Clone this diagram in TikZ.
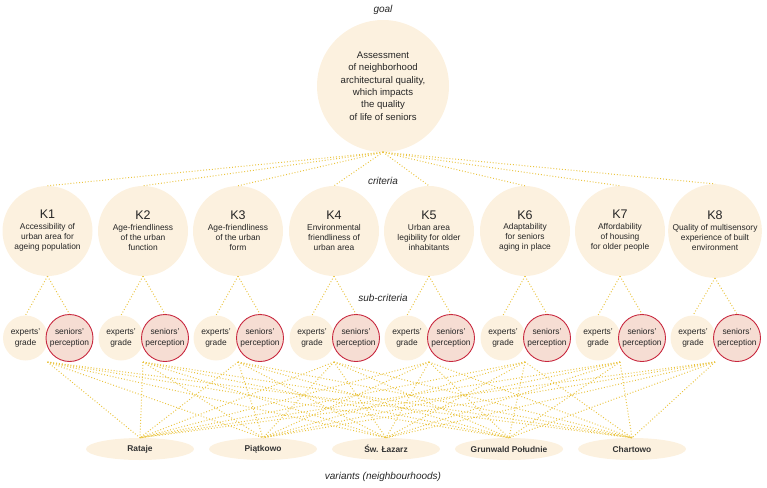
\documentclass[tikz,border=0pt]{standalone}
\usepackage{fontspec}
\setmainfont{Liberation Sans}
\usetikzlibrary{shapes.geometric,calc}
\definecolor{creamfill}{RGB}{252,241,223}
\definecolor{pinkfill}{RGB}{246,221,211}
\definecolor{seniorred}{RGB}{200,40,63}
\definecolor{dotyellow}{RGB}{234,196,64}

\tikzset{
  levellabel/.style={font=\fontsize{10}{12}\selectfont\itshape,text=black!85},
  goalnode/.style={circle,fill=creamfill,minimum size=132pt,inner sep=0pt,align=center,
    font=\fontsize{9.6}{12.3}\selectfont,text=black!85},
  critnode/.style={circle,fill=creamfill,minimum size=90pt,inner sep=0pt,align=center,
    font=\fontsize{8.4}{10.3}\selectfont,text=black!85},
  expertnode/.style={circle,fill=creamfill,minimum size=45pt,inner sep=0pt,align=center,
    font=\fontsize{8.4}{11}\selectfont,text=black!85},
  seniornode/.style={circle,fill=pinkfill,draw=seniorred,line width=0.9pt,minimum size=47pt,
    inner sep=0pt,align=center,font=\fontsize{8.4}{11}\selectfont,text=black!85},
  variantnode/.style={ellipse,fill=creamfill,minimum width=108pt,minimum height=22pt,
    inner sep=0pt,font=\fontsize{8.4}{10}\selectfont\bfseries,text=black!80},
  link/.style={dotyellow,line width=1pt,dash pattern=on 0.9pt off 2pt}
}

\begin{document}
\begin{tikzpicture}[x=1pt,y=-1pt]
    \useasboundingbox (0,0) rectangle (767,487);

    % Level labels
    \node[levellabel] (lgoal) at (383,10) {goal};
    \node[levellabel] (lcrit) at (383,181) {criteria};
    \node[levellabel] (lsub) at (383,298) {sub-criteria};
    \node[levellabel] (lvar) at (383,477) {variants (neighbourhoods)};

    % Goal
    \node[goalnode] (goal) at (383,86) {Assessment\\of neighborhood\\architectural quality,\\which impacts\\the quality\\of life of seniors};

    % Criteria
    \node[critnode] (k1) at (47.5,231) {{\fontsize{12.5}{14}\selectfont K1}\\Accessibility of\\urban area for\\ageing population};
    \node[critnode] (k2) at (143,231) {{\fontsize{12.5}{14}\selectfont K2}\\Age-friendliness\\of the urban\\function};
    \node[critnode] (k3) at (238,231) {{\fontsize{12.5}{14}\selectfont K3}\\Age-friendliness\\of the urban\\form};
    \node[critnode] (k4) at (334,231) {{\fontsize{12.5}{14}\selectfont K4}\\Environmental\\friendliness of\\urban area};
    \node[critnode] (k5) at (429,231) {{\fontsize{12.5}{14}\selectfont K5}\\Urban area\\legibility for older\\inhabitants};
    \node[critnode] (k6) at (525,231) {{\fontsize{12.5}{14}\selectfont K6}\\Adaptability\\for seniors\\aging in place};
    \node[critnode] (k7) at (620,231) {{\fontsize{12.5}{14}\selectfont K7}\\Affordability\\of housing\\for older people};
    \node[critnode] (k8) at (715,231) {{\fontsize{12.5}{14}\selectfont K8}\\Quality of multisensory\\experience of built\\environment};

    % Sub-criteria
    \foreach \i in {1,...,8} {
      \node[expertnode] (e\i) at ($(k\i)+(-22,107)$) {experts'\\grade};
      \node[seniornode] (s\i) at ($(k\i)+(22,107)$) {seniors'\\perception};
      \coordinate (b\i) at ($(k\i)+(0,131)$);
    }

    % Variants
    \node[variantnode] (v1) at (140,449) {Rataje};
    \node[variantnode] (v2) at (263,449) {Piątkowo};
    \node[variantnode] (v3) at (386,449) {Św. Łazarz};
    \node[variantnode] (v4) at (509,449) {Grunwald Południe};
    \node[variantnode] (v5) at (632,449) {Chartowo};

    % Links
    \foreach \i in {1,...,8} {
      \draw[link] (goal.south) -- (k\i.north);
      \draw[link] (k\i.south) -- (e\i.north);
      \draw[link] (k\i.south) -- (s\i.north);
      \foreach \j in {1,...,5}
        \draw[link] (b\i) -- (v\j.north);
    }
  \end{tikzpicture}
\end{document}
